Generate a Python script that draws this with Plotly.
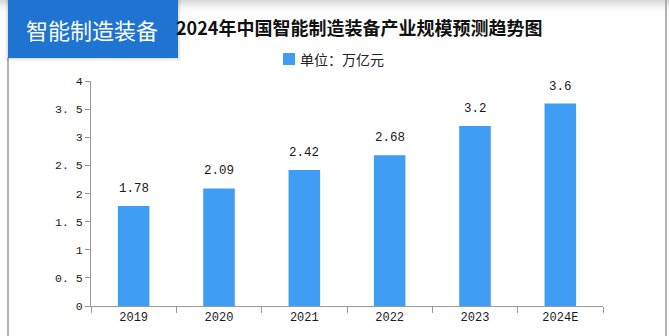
import plotly.graph_objects as go

# Market size of China's intelligent manufacturing equipment industry (trillion yuan)
years = ["2019", "2020", "2021", "2022", "2023", "2024E"]
scale = [1.78, 2.09, 2.42, 2.68, 3.2, 3.6]
value_labels = ["1.78", "2.09", "2.42", "2.68", "3.2", "3.6"]
y_ticks = [0, 0.5, 1, 1.5, 2, 2.5, 3, 3.5, 4]
y_tick_text = ["0", "0. 5", "1", "1. 5", "2", "2. 5", "3", "3. 5", "4"]
series_name = "单位：万亿元"

W, H = 669, 336
L, R, T, B = 91, 66, 81, 30
PW, PH = W - L - R, H - T - B

def px(x):
    return (x - L) / PW

def py(y):
    return (H - B - y) / PH

BAR = "#3f9ef4"
MONO = "Liberation Mono, DejaVu Sans Mono, monospace"
CJK = "Noto Sans CJK SC"

fig = go.Figure()
fig.add_trace(go.Bar(
    x=years, y=scale, name=series_name,
    marker=dict(color=BAR, line=dict(width=0)),
    width=0.37, showlegend=False,
))

shapes = []
# soft gray band along the top edge
for i, op in enumerate([0.10, 0.08, 0.06, 0.045, 0.03, 0.02, 0.01]):
    shapes.append(dict(type="rect", xref="paper", yref="paper",
                       x0=px(0), x1=px(W), y0=py(i * 2 + 2), y1=py(0),
                       fillcolor="#888", opacity=op, line_width=0, layer="below"))
# frame lines
shapes.append(dict(type="line", xref="paper", yref="paper",
                   x0=px(8), x1=px(8), y0=py(58), y1=py(H),
                   line=dict(color="#9a9a9a", width=1.5)))
shapes.append(dict(type="line", xref="paper", yref="paper",
                   x0=px(666), x1=px(666), y0=py(0), y1=py(H),
                   line=dict(color="#9a9a9a", width=1.5)))
# badge shadow and badge
for i, op in enumerate([0.05, 0.04, 0.03]):
    d = i + 1
    shapes.append(dict(type="rect", xref="paper", yref="paper",
                       x0=px(8 - d), x1=px(178 + d), y0=py(58 + d), y1=py(0),
                       fillcolor="#000", opacity=op, line_width=0))
shapes.append(dict(type="rect", xref="paper", yref="paper",
                   x0=px(8), x1=px(178), y0=py(58), y1=py(0),
                   fillcolor="#1e74d0", line_width=0))
# legend swatch
shapes.append(dict(type="rect", xref="paper", yref="paper",
                   x0=px(283), x1=px(295), y0=py(65), y1=py(53),
                   fillcolor=BAR, line_width=0))

annotations = [
    dict(text="智能制造装备", xref="paper", yref="paper", x=px(92), y=py(29),
         xanchor="center", yanchor="middle", showarrow=False,
         font=dict(family=CJK, size=22, color="white")),
    dict(text="<b>2024年中国智能制造装备产业规模预测趋势图</b>", xref="paper", yref="paper",
         x=px(359), y=py(27), xanchor="center", yanchor="middle", showarrow=False,
         font=dict(family=CJK, size=18, color="#111")),
    dict(text=series_name, xref="paper", yref="paper", x=px(298), y=py(59),
         xanchor="left", yanchor="middle", showarrow=False,
         font=dict(family=CJK, size=14, color="#222")),
]
# value labels above each bar (category index positions)
for i, (v, lab) in enumerate(zip(scale, value_labels)):
    annotations.append(dict(text=lab, x=i, y=v, xref="x", yref="y",
                            xanchor="center", yanchor="bottom", yshift=8,
                            showarrow=False,
                            font=dict(family=MONO, size=12.5, color="#1a1a1a")))

fig.update_layout(
    width=W, height=H,
    margin=dict(l=L, r=R, t=T, b=B),
    paper_bgcolor="white", plot_bgcolor="white",
    shapes=shapes, annotations=annotations,
    showlegend=False,
    xaxis=dict(
        type="category", range=[-0.5, len(years) - 0.5],
        showline=True, linecolor="#999", linewidth=1,
        ticks="outside", tickson="boundaries", ticklen=6, tickcolor="#999",
        tickfont=dict(family=MONO, size=12, color="#1a1a1a"),
        showgrid=False, zeroline=False,
    ),
    yaxis=dict(
        range=[0, 4], tickvals=y_ticks, ticktext=y_tick_text,
        showline=True, linecolor="#999", linewidth=1,
        ticks="outside", ticklen=5, tickcolor="#999",
        tickfont=dict(family=MONO, size=11.5, color="#1a1a1a"),
        showgrid=False, zeroline=False,
    ),
)

fig.write_html("out.html")
